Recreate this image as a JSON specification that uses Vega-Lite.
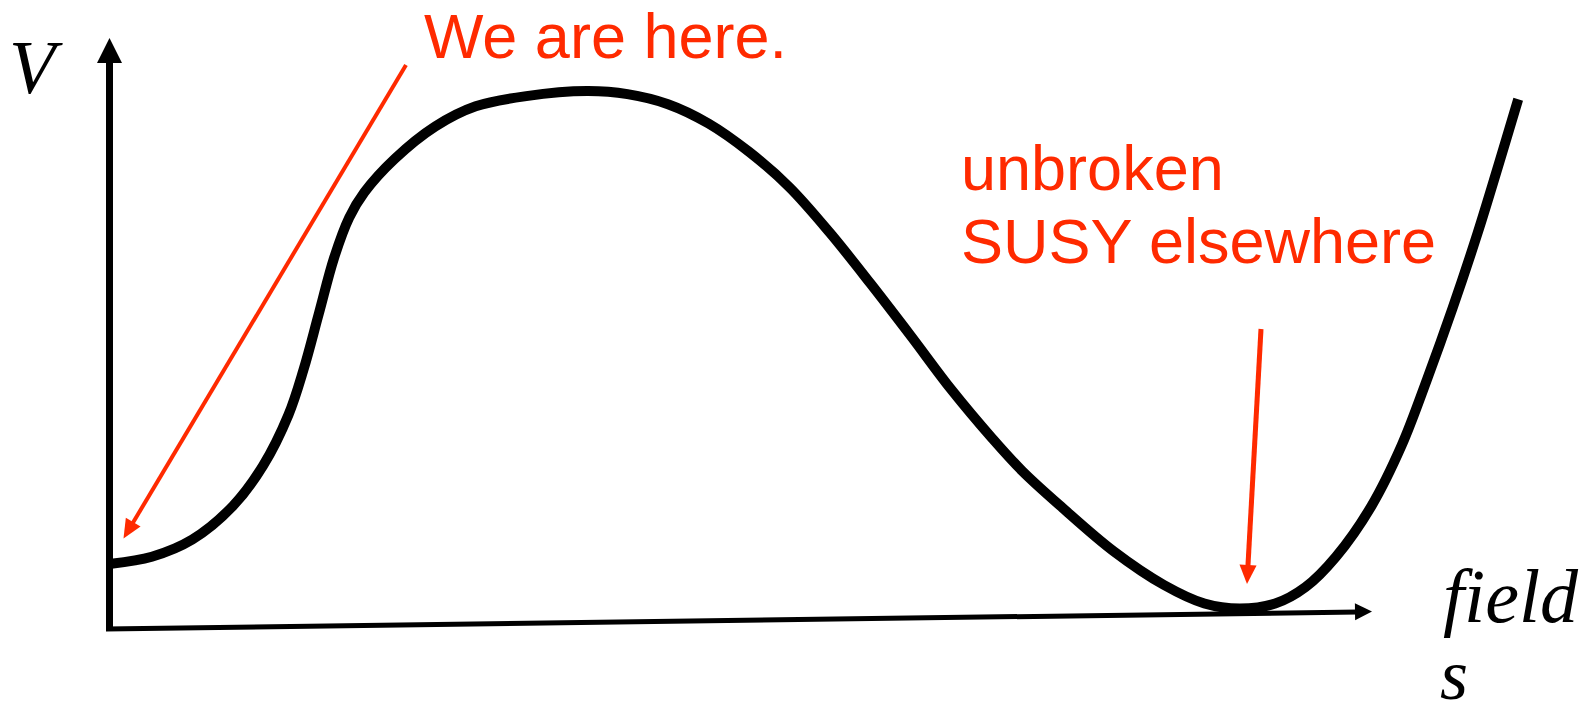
{
  "$schema": "https://vega.github.io/schema/vega-lite/v6.json",
  "width": 1587,
  "height": 714,
  "autosize": "none",
  "padding": 0,
  "background": "white",
  "config": {"view": {"stroke": null}},
  "datasets": {
    "curve": [
      {"s": 111.3, "v": 563.7}, {"s": 151.8, "v": 556.7}, {"s": 192.3, "v": 539.5}, {"s": 232.8, "v": 506.1},
      {"s": 263.1, "v": 465.6}, {"s": 288.4, "v": 415.0}, {"s": 303.6, "v": 369.4}, {"s": 318.8, "v": 313.8},
      {"s": 334.0, "v": 258.1}, {"s": 349.2, "v": 217.6}, {"s": 364.4, "v": 192.3}, {"s": 394.7, "v": 158.9},
      {"s": 435.2, "v": 126.5}, {"s": 475.7, "v": 106.3}, {"s": 526.3, "v": 96.1}, {"s": 587.0, "v": 91.1},
      {"s": 627.5, "v": 94.1}, {"s": 668.0, "v": 104.2}, {"s": 708.5, "v": 123.5}, {"s": 749.0, "v": 151.8},
      {"s": 789.4, "v": 187.2}, {"s": 829.9, "v": 232.8}, {"s": 870.4, "v": 283.4}, {"s": 910.9, "v": 336.0},
      {"s": 951.4, "v": 389.7}, {"s": 991.9, "v": 438.0}, {"s": 1022.2, "v": 471.0}, {"s": 1062.7, "v": 508.0},
      {"s": 1113.3, "v": 551.0}, {"s": 1164.0, "v": 585.0}, {"s": 1204.4, "v": 603.5}, {"s": 1239.8, "v": 608.5},
      {"s": 1275.2, "v": 603.5}, {"s": 1305.6, "v": 587.0}, {"s": 1336.0, "v": 556.7}, {"s": 1371.4, "v": 506.1},
      {"s": 1401.7, "v": 445.3}, {"s": 1427.0, "v": 379.5}, {"s": 1452.4, "v": 308.7}, {"s": 1477.7, "v": 232.8},
      {"s": 1497.9, "v": 167.0}, {"s": 1518.2, "v": 99.2}
    ]
  },
  "layer": [
    {
      "data": {"values": [{"s": 109.5, "v": 631, "s2": 109.5, "v2": 60}]},
      "mark": {"type": "rule", "color": "black", "strokeWidth": 7},
      "encoding": {
        "x": {"field": "s", "type": "quantitative", "scale": {"domain": [0, 1587], "nice": false, "zero": false}, "axis": null},
        "y": {"field": "v", "type": "quantitative", "scale": {"domain": [0, 714], "nice": false, "zero": false, "reverse": true}, "axis": null},
        "x2": {"field": "s2"},
        "y2": {"field": "v2"}
      }
    },
    {
      "data": {"values": [{"s": 106, "v": 629, "s2": 1358, "v2": 612}]},
      "mark": {"type": "rule", "color": "black", "strokeWidth": 5},
      "encoding": {
        "x": {"field": "s", "type": "quantitative", "scale": {"domain": [0, 1587], "nice": false, "zero": false}, "axis": null},
        "y": {"field": "v", "type": "quantitative", "scale": {"domain": [0, 714], "nice": false, "zero": false, "reverse": true}, "axis": null},
        "x2": {"field": "s2"},
        "y2": {"field": "v2"}
      }
    },
    {
      "data": {"values": [{"s": 109.5, "v": 38}]},
      "mark": {"type": "point", "shape": "M0,0L-0.5,1L0.5,1Z", "size": 2500, "filled": true, "color": "black", "opacity": 1},
      "encoding": {
        "x": {"field": "s", "type": "quantitative", "axis": null},
        "y": {"field": "v", "type": "quantitative", "axis": null}
      }
    },
    {
      "data": {"values": [{"s": 1372, "v": 611.5}]},
      "mark": {"type": "point", "shape": "M0,0L-1,-0.5L-1,0.5Z", "size": 1156, "filled": true, "color": "black", "opacity": 1, "angle": -0.8},
      "encoding": {
        "x": {"field": "s", "type": "quantitative", "axis": null},
        "y": {"field": "v", "type": "quantitative", "axis": null}
      }
    },
    {
      "data": {"name": "curve"},
      "mark": {"type": "line", "color": "black", "strokeWidth": 10, "interpolate": "catmull-rom", "strokeCap": "butt"},
      "encoding": {
        "x": {"field": "s", "type": "quantitative", "axis": null},
        "y": {"field": "v", "type": "quantitative", "axis": null}
      }
    },
    {
      "data": {"values": [{"s": 406, "v": 65, "s2": 128.6, "v2": 530}]},
      "mark": {"type": "rule", "color": "#ff2a00", "strokeWidth": 4},
      "encoding": {
        "x": {"field": "s", "type": "quantitative", "axis": null},
        "y": {"field": "v", "type": "quantitative", "axis": null},
        "x2": {"field": "s2"},
        "y2": {"field": "v2"}
      }
    },
    {
      "data": {"values": [{"s": 123.5, "v": 538.5}]},
      "mark": {"type": "point", "shape": "M0,0L-0.45,-1L0.45,-1Z", "size": 1444, "filled": true, "color": "#ff2a00", "opacity": 1, "angle": 30.7},
      "encoding": {
        "x": {"field": "s", "type": "quantitative", "axis": null},
        "y": {"field": "v", "type": "quantitative", "axis": null}
      }
    },
    {
      "data": {"values": [{"s": 1261, "v": 329, "s2": 1247.5, "v2": 574}]},
      "mark": {"type": "rule", "color": "#ff2a00", "strokeWidth": 5},
      "encoding": {
        "x": {"field": "s", "type": "quantitative", "axis": null},
        "y": {"field": "v", "type": "quantitative", "axis": null},
        "x2": {"field": "s2"},
        "y2": {"field": "v2"}
      }
    },
    {
      "data": {"values": [{"s": 1247, "v": 584}]},
      "mark": {"type": "point", "shape": "M0,0L-0.45,-1L0.45,-1Z", "size": 1444, "filled": true, "color": "#ff2a00", "opacity": 1, "angle": 3.1},
      "encoding": {
        "x": {"field": "s", "type": "quantitative", "axis": null},
        "y": {"field": "v", "type": "quantitative", "axis": null}
      }
    },
    {
      "data": {"values": [
        {"s": 424, "v": 58, "label": "We are here."},
        {"s": 961, "v": 190, "label": "unbroken"},
        {"s": 961, "v": 263, "label": "SUSY elsewhere"}
      ]},
      "mark": {"type": "text", "align": "left", "baseline": "alphabetic", "font": "Liberation Sans", "fontSize": 63, "color": "#ff2a00"},
      "encoding": {
        "x": {"field": "s", "type": "quantitative", "axis": null},
        "y": {"field": "v", "type": "quantitative", "axis": null},
        "text": {"field": "label"}
      }
    },
    {
      "data": {"values": [
        {"s": 9, "v": 93, "label": "V"},
        {"s": 1443, "v": 622, "label": "field"}
      ]},
      "mark": {"type": "text", "align": "left", "baseline": "alphabetic", "font": "Liberation Serif", "fontStyle": "italic", "fontSize": 76, "color": "black"},
      "encoding": {
        "x": {"field": "s", "type": "quantitative", "axis": null},
        "y": {"field": "v", "type": "quantitative", "axis": null},
        "text": {"field": "label"}
      }
    },
    {
      "data": {"values": [
        {"s": 1440, "v": 699, "label": "s"}
      ]},
      "mark": {"type": "text", "align": "left", "baseline": "alphabetic", "font": "Liberation Serif", "fontStyle": "italic", "fontSize": 72, "color": "black"},
      "encoding": {
        "x": {"field": "s", "type": "quantitative", "axis": null},
        "y": {"field": "v", "type": "quantitative", "axis": null},
        "text": {"field": "label"}
      }
    }
  ]
}
